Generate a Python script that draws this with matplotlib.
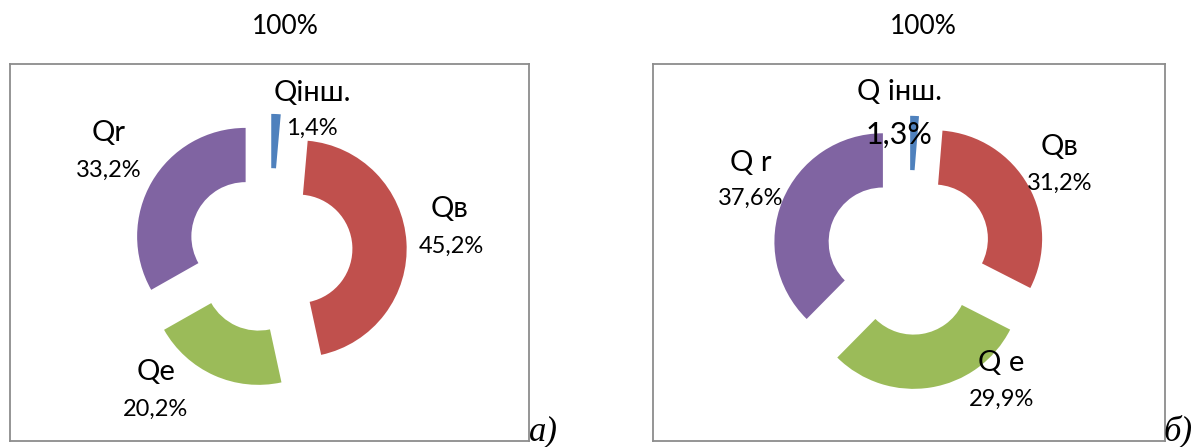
import matplotlib.pyplot as plt

# shares of heat-balance components, %
names_a = ['Qінш.', 'Qв', 'Qe', 'Qr']
shares_a = [1.4, 45.2, 20.2, 33.2]

names_b = ['Q інш.', 'Qв', 'Q e', 'Q r']
shares_b = [1.3, 31.2, 29.9, 37.6]

colors = ['#4F81BD', '#C0504D', '#9BBB59', '#8064A2']
title = '100%'
panel_tags = ['а)', 'б)']

W, H = 1201, 447
R = 108.5          # donut outer radius in pixels
SANS = ['Lato', 'DejaVu Sans']

fig = plt.figure(figsize=(W / 100, H / 100), dpi=100)


def donut(box, center, values, names, name_pos, pct_pos, pct_sizes):
    x0, y0, x1, y1 = box
    cx, cy = center
    ax = fig.add_axes([x0 / W, 1 - y1 / H, (x1 - x0) / W, (y1 - y0) / H])
    ax.pie(values, colors=colors, startangle=90, counterclock=False,
           explode=[0.26] * len(values), radius=1,
           wedgeprops=dict(width=0.5, linewidth=0))
    ax.set_xlim((x0 - cx) / R, (x1 - cx) / R)
    ax.set_ylim((cy - y1) / R, (cy - y0) / R)
    ax.set_aspect('equal', adjustable='datalim')
    ax.set_frame_on(True)
    for s in ax.spines.values():
        s.set_color('#8c8c8c')
        s.set_linewidth(1.3)
    ax.set_xticks([])
    ax.set_yticks([])

    for name, v, (nx, ny), (px, py), fs in zip(names, values, name_pos, pct_pos, pct_sizes):
        ax.text(nx, ny, name, ha='center', va='center', fontsize=21, family=SANS)
        pct = f'{v:.1f}%'.replace('.', ',')
        ax.text(px, py, pct, ha='center', va='center', fontsize=fs, family=SANS)
    return ax


donut((9.5, 64, 529, 440.5), (270, 250.6), shares_a, names_a,
      [(0.387, 1.452), (1.659, 0.383), (-1.051, -1.119), (-1.484, 1.084)],
      [(0.387, 1.130), (1.668, 0.042), (-1.051, -1.460), (-1.484, 0.743)],
      [17, 17, 17, 17])

donut((652.5, 64, 1165, 441), (909, 252.5), shares_b, names_b,
      [(-0.092, 1.479), (1.392, 0.972), (0.853, -1.018), (-1.456, 0.825)],
      [(-0.092, 1.083), (1.392, 0.641), (0.853, -1.350), (-1.456, 0.502)],
      [22, 17, 17, 17])

# chart titles
fig.text(285 / W, 1 - 27 / H, title, ha='center', va='center', fontsize=19, family=SANS)
fig.text(923 / W, 1 - 27 / H, title, ha='center', va='center', fontsize=19, family=SANS)

# panel letters
fig.text(543 / W, 1 - 432 / H, panel_tags[0], ha='center', va='center',
         fontsize=25, family='Liberation Serif', style='italic')
fig.text(1178 / W, 1 - 431 / H, panel_tags[1], ha='center', va='center',
         fontsize=25, family='Liberation Serif', style='italic')

fig.savefig('out.png', dpi=100)
